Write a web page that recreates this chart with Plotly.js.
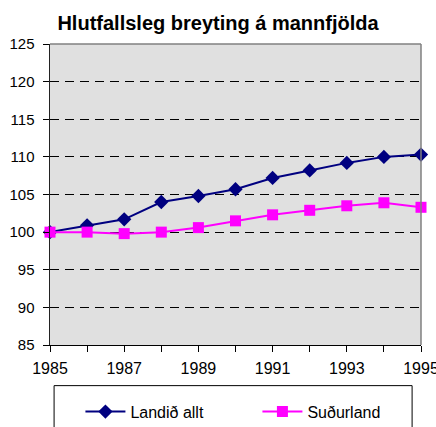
<!DOCTYPE html>
<html><head><meta charset="utf-8">
<script src="https://cdn.plot.ly/plotly-3.0.1.min.js"></script>
<style>body{margin:0;padding:0;background:#fff}#chart{width:436px;height:427px}</style>
</head><body><div id="chart"></div>
<script>
const years = [1985,1986,1987,1988,1989,1990,1991,1992,1993,1994,1995];
const landid = [100,100.9,101.7,104.0,104.8,105.7,107.2,108.2,109.2,110.0,110.3];
const sudurland = [100,100.0,99.8,100.0,100.6,101.5,102.3,102.9,103.5,103.9,103.3];
const seriesNames = ["Landið allt","Suðurland"];
const xTicks = [1985,1987,1989,1991,1993,1995];
const yTicks = [85,90,95,100,105,110,115,120,125];

const font = "Liberation Sans, Arial, sans-serif";
const traces = [
  {x: years, y: landid, name: seriesNames[0], mode: "lines+markers", cliponaxis:false,
   line:{color:"#000080", width:2}, marker:{symbol:"diamond", size:11, color:"#000080"}},
  {x: years, y: sudurland, name: seriesNames[1], mode: "lines+markers", cliponaxis:false,
   line:{color:"#ff00ff", width:2}, marker:{symbol:"square", size:11, color:"#ff00ff"}}
];
const layout = {
  width:436, height:427,
  margin:{l:50, r:15, t:44, b:82, autoexpand:false},
  paper_bgcolor:"#fff", plot_bgcolor:"#e0e0e0",
  font:{family:font, size:16, color:"#000"},
  title:{text:"<b>Hlutfallsleg breyting á mannfjölda</b>", x:0.5, xanchor:"center", y:0.945, yanchor:"middle", font:{family:font, size:20, color:"#000"}},
  xaxis:{range:[1985,1995], tickvals:xTicks, ticktext:xTicks.map(String), ticks:"outside", ticklen:6, tickcolor:"#000",
    showline:true, linecolor:"#000", linewidth:1, showgrid:false, zeroline:false, ticklabeloverflow:"allow", ticklabelstandoff:3,
    minor:{dtick:1, tick0:1985, ticks:"outside", ticklen:6, tickcolor:"#000", showgrid:false},
    tickfont:{size:16}},
  yaxis:{range:[85,125], tickvals:yTicks, ticks:"outside", ticklen:6, tickcolor:"#000", ticklabelstandoff:5,
    showline:true, linecolor:"#222", linewidth:1.5, showgrid:true, gridcolor:"#000", griddash:"9px,6px", gridwidth:1, zeroline:false,
    tickfont:{size:15}},
  showlegend:true,
  legend:{orientation:"h", x:0.082, xanchor:"left", y:-0.165, yanchor:"top", bgcolor:"rgba(0,0,0,0)",
    font:{size:16}, entrywidth:122, itemwidth:40},
  shapes:[
    {type:"line", xref:"paper", yref:"paper", x0:1, x1:1, y0:0, y1:1, line:{color:"#808080", width:1.5}},
    {type:"line", xref:"paper", yref:"paper", x0:0, x1:1, y0:1, y1:1, line:{color:"#808080", width:1.5}},
    {type:"rect", xref:"paper", yref:"paper", x0:0.011, x1:0.976, y0:-0.135, y1:-0.35, line:{color:"#000", width:1}, fillcolor:"rgba(0,0,0,0)"}
  ]
};
Plotly.newPlot("chart", traces, layout, {displayModeBar:false, staticPlot:true});
</script></body></html>
